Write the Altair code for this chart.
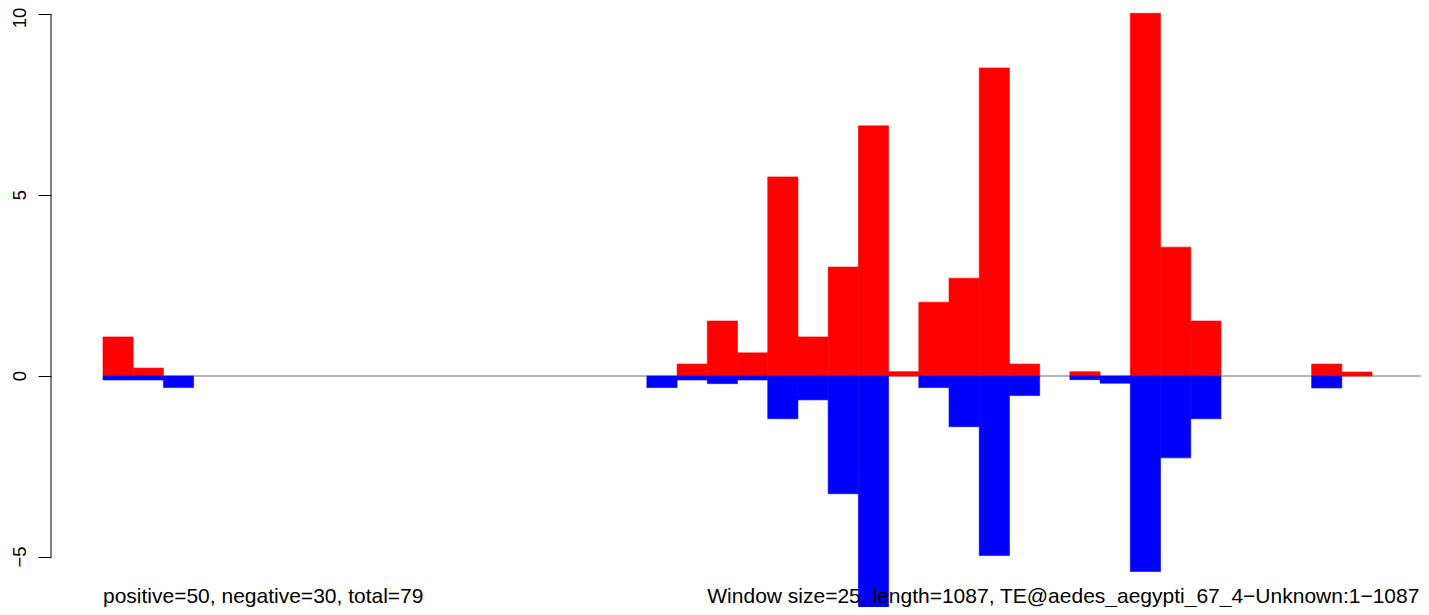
import altair as alt
import pandas as pd

# ---- data ----
window_size = 25
seq_length = 1087

# one value per 25-bp window (44 windows)
positive = [1.08, 0.22, 0, 0, 0, 0, 0, 0, 0, 0,
            0, 0, 0, 0, 0, 0, 0, 0, 0, 0.33,
            1.52, 0.64, 5.50, 1.08, 3.01, 6.91, 0.12, 2.04, 2.70, 8.51,
            0.33, 0, 0.12, 0, 10.02, 3.56, 1.52, 0, 0, 0,
            0.33, 0.11, 0, 0]
negative = [-0.11, -0.11, -0.32, 0, 0, 0, 0, 0, 0, 0,
            0, 0, 0, 0, 0, 0, 0, 0, -0.32, -0.11,
            -0.21, -0.11, -1.18, -0.66, -3.25, -6.46, 0, -0.32, -1.40, -4.96,
            -0.54, 0, -0.10, -0.20, -5.40, -2.26, -1.18, 0, 0, 0,
            -0.33, 0, 0, 0]
y_ticks = [-5, 0, 5, 10]
y_tick_labels = ["\u22125", "0", "5", "10"]
footer_texts = ["positive=50, negative=30, total=79",
                "Window size=25, length=1087, TE@aedes_aegypti_67_4\u2212Unknown:1\u22121087"]
footer_x = [0, 500]

# ---- tables ----
starts = [i * window_size for i in range(len(positive))]
df = pd.DataFrame({
    "start": starts,
    "end": [s + window_size for s in starts],
    "pos": positive,
    "neg": negative,
    "zero": [0] * len(starts),
})
pos_df = df[df["pos"] != 0]
neg_df = df[df["neg"] != 0]

X_MIN, X_MAX = -43.0, 1090.5
Y_MIN, Y_MAX = -6.381, 10.166
xscale = alt.Scale(domain=[X_MIN, X_MAX], nice=False, zero=False)
yscale = alt.Scale(domain=[Y_MIN, Y_MAX], nice=False, zero=False)

font = "Liberation Sans"

yaxis = alt.Axis(values=y_ticks, tickSize=13, tickColor="black", tickWidth=1,
                 labels=False, domain=False, grid=False, title=None)

line_df = pd.DataFrame({"x": [0], "x2": [X_MAX], "y": [0]})
zero_line = alt.Chart(line_df).mark_rule(color="#6E6E6E", strokeWidth=1.2).encode(
    x=alt.X("x:Q", scale=xscale, axis=None),
    x2="x2:Q",
    y=alt.Y("y:Q", scale=yscale, axis=yaxis),
)

axis_df = pd.DataFrame({"y": [min(y_ticks)], "y2": [max(y_ticks)]})
axis_line = alt.Chart(axis_df).mark_rule(color="black", strokeWidth=1).encode(
    x=alt.value(0),
    y=alt.Y("y:Q", scale=yscale, axis=yaxis),
    y2="y2:Q",
)

tick_df = pd.DataFrame({"y": y_ticks, "label": y_tick_labels})
label_style = dict(angle=270, align="center", baseline="alphabetic", font=font,
                   fontSize=18.5, color="black")
tick_labels = alt.Chart(tick_df).mark_text(**label_style).encode(
    x=alt.value(-25),
    y=alt.Y("y:Q", scale=yscale, axis=yaxis),
    text="label:N",
).transform_filter(alt.datum.y < max(y_ticks))
top_tick_label = alt.Chart(tick_df).mark_text(dx=-4, **label_style).encode(
    x=alt.value(-25),
    y=alt.Y("y:Q", scale=yscale, axis=yaxis),
    text="label:N",
).transform_filter(alt.datum.y == max(y_ticks))

red_bars = alt.Chart(pos_df).mark_rect(
    color="#FF0000", stroke="#FF0000", strokeWidth=0.6
).encode(
    x=alt.X("start:Q", scale=xscale, axis=None),
    x2="end:Q",
    y=alt.Y("pos:Q", scale=yscale, axis=yaxis),
    y2="zero:Q",
)
blue_bars = alt.Chart(neg_df).mark_rect(
    color="#0000FF", stroke="#0000FF", strokeWidth=0.6
).encode(
    x=alt.X("start:Q", scale=xscale, axis=None),
    x2="end:Q",
    y=alt.Y("neg:Q", scale=yscale, axis=yaxis),
    y2="zero:Q",
)

text_df = pd.DataFrame({"x": footer_x, "label": footer_texts})
footer = alt.Chart(text_df).mark_text(
    align="left", baseline="alphabetic", font=font, fontSize=21.0, color="black"
).encode(
    x=alt.X("x:Q", scale=xscale, axis=None),
    y=alt.value(594.5),
    text="label:N",
)

chart = alt.layer(zero_line, red_bars, blue_bars, axis_line,
                  tick_labels, top_tick_label, footer).properties(
    width=1370,
    height=599,
    autosize=alt.AutoSizeParams(type="none"),
    padding={"left": 43, "top": 0, "right": 0, "bottom": 0},
    background="white",
).configure_view(stroke=None)

chart.save("out.html", embed_options={"renderer": "svg", "actions": False})
